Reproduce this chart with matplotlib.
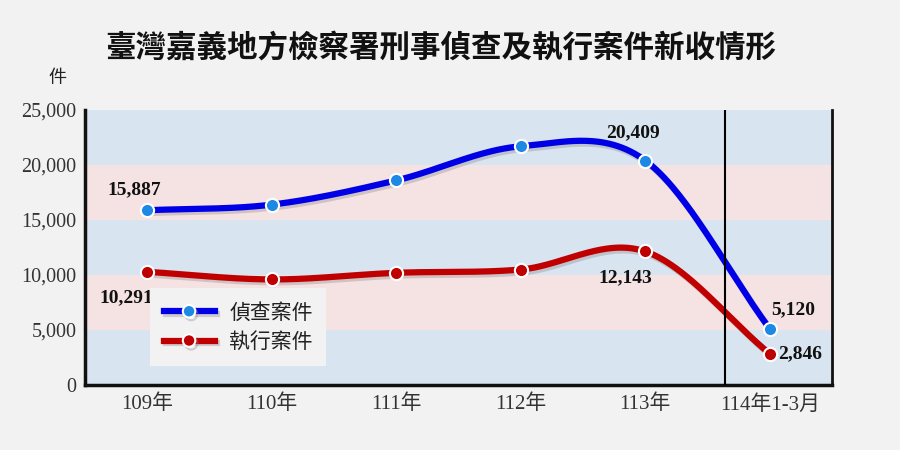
import numpy as np
import matplotlib
matplotlib.use("Agg")
import matplotlib.pyplot as plt
import matplotlib.patheffects as pe
from matplotlib.lines import Line2D

categories = ["109年", "110年", "111年", "112年", "113年", "114年1-3月"]
investigation = [15887, 16400, 18600, 21700, 20409, 5120]
execution = [10291, 9600, 10200, 10500, 12143, 2846]
series_names = ["偵查案件", "執行案件"]
labeled_inv = {0: "15,887", 4: "20,409", 5: "5,120"}
labeled_exe = {0: "10,291", 4: "12,143", 5: "2,846"}
yticks = [0, 5000, 10000, 15000, 20000, 25000]
title = "臺灣嘉義地方檢察署刑事偵查及執行案件新收情形"

CJK = ["Noto Sans CJK TC", "DejaVu Sans"]
SERIF_CJK = ["Liberation Serif", "Noto Sans CJK TC"]


def catmull_rom(xs, ys, n=60):
    xs = np.asarray(xs, float)
    ys = np.asarray(ys, float)
    px = np.concatenate([[2 * xs[0] - xs[1]], xs, [2 * xs[-1] - xs[-2]]])
    py = np.concatenate([[2 * ys[0] - ys[1]], ys, [2 * ys[-1] - ys[-2]]])
    ox, oy = [], []
    t = np.linspace(0, 1, n)
    for i in range(1, len(px) - 2):
        m0x = (px[i + 1] - px[i - 1]) / 2
        m1x = (px[i + 2] - px[i]) / 2
        m0y = (py[i + 1] - py[i - 1]) / 2
        m1y = (py[i + 2] - py[i]) / 2
        h00 = 2 * t**3 - 3 * t**2 + 1
        h10 = t**3 - 2 * t**2 + t
        h01 = -2 * t**3 + 3 * t**2
        h11 = t**3 - t**2
        ox.append(h00 * px[i] + h10 * m0x + h01 * px[i + 1] + h11 * m1x)
        oy.append(h00 * py[i] + h10 * m0y + h01 * py[i + 1] + h11 * m1y)
    return np.concatenate(ox), np.concatenate(oy)


fig = plt.figure(figsize=(9, 4.5), dpi=100, facecolor="#f2f2f2")
ax = fig.add_axes([0.0944, 0.1444, 0.83, 0.6111])
ax.set_facecolor("#f2f2f2")

band_colors = ["#d8e4f0", "#f5e2e3"]
for i in range(len(yticks) - 1):
    ax.axhspan(yticks[i], yticks[i + 1], color=band_colors[i % 2], lw=0, zorder=0)

x = np.arange(len(categories))
shadow = [pe.SimpleLineShadow(offset=(1.5, -2), shadow_color="#888888", alpha=0.35), pe.Normal()]

for vals, lc, mc in [(investigation, "#0000e6", "#1e88e5"), (execution, "#c00000", "#c00000")]:
    sx, sy = catmull_rom(x, vals)
    ax.plot(sx, sy, color=lc, lw=4.5, solid_capstyle="round", zorder=3, path_effects=shadow)
    ax.plot(x, vals, "o", ms=9.5, mfc=mc, mec="white", mew=1.5, zorder=4)

ax.axvline(4.64, color="black", lw=1.5, zorder=5)

ax.set_xlim(-0.5, 5.5)
ax.set_ylim(0, 25000)
ax.set_yticks(yticks)
ax.set_yticklabels([f"{v:,}" for v in yticks], family="Liberation Serif", fontsize=14.5, color="#333333")
ax.set_xticks(x)
ax.set_xticklabels(categories, family=SERIF_CJK, fontsize=15, color="#333333")
ax.tick_params(axis="both", length=0)
ax.tick_params(axis="x", pad=7)
ax.tick_params(axis="y", pad=6)

ax.spines["top"].set_visible(False)
ax.spines["left"].set_linewidth(2.5)
ax.spines["bottom"].set_linewidth(2.5)
ax.spines["right"].set_linewidth(2)
for s in ["left", "bottom", "right"]:
    ax.spines[s].set_color("#111111")

lab_font = dict(family="Liberation Serif", fontsize=14, fontweight="bold", color="#111111", zorder=6)
ax.annotate(labeled_inv[0], (0, investigation[0]), xytext=(-9.5, 15), textcoords="offset points", ha="center", va="center", **lab_font)
ax.annotate(labeled_inv[4], (4, investigation[4]), xytext=(-8.6, 20), textcoords="offset points", ha="center", va="center", **lab_font)
ax.annotate(labeled_inv[5], (5, investigation[5]), xytext=(17, 13.7), textcoords="offset points", ha="center", va="center", **lab_font)
ax.annotate(labeled_exe[0], (0, execution[0]), xytext=(-15, -19), textcoords="offset points", ha="center", va="center", **lab_font)
ax.annotate(labeled_exe[4], (4, execution[4]), xytext=(-14.4, -18.7), textcoords="offset points", ha="center", va="center", **lab_font)
ax.annotate(labeled_exe[5], (5, execution[5]), xytext=(22, 0), textcoords="offset points", ha="center", va="center", **lab_font)

handles = [
    Line2D([], [], color="#0000e6", lw=4.5, marker="o", ms=9, mfc="#1e88e5", mec="white", mew=1.5,
           path_effects=shadow),
    Line2D([], [], color="#c00000", lw=4.5, marker="o", ms=9, mfc="#c00000", mec="white", mew=1.5,
           path_effects=shadow),
]
leg = fig.legend(handles, series_names, loc="upper left", bbox_to_anchor=(150 / 900, 1 - 288 / 450),
                 frameon=True, fancybox=False, facecolor="#f2f2f2", edgecolor="none", framealpha=1,
                 prop={"family": CJK, "size": 15}, handlelength=2.45, handletextpad=0.7,
                 labelspacing=0.35, borderpad=0.65, borderaxespad=0)
leg.set_zorder(10)
for t in leg.get_texts():
    t.set_color("#222222")

fig.text(0.49, 1 - 48 / 450, title, ha="center", va="center", family=CJK, fontsize=22,
         fontweight="bold", color="#111111")
fig.text(57 / 900, 1 - 78 / 450, "件", ha="center", va="center", family=CJK, fontsize=13, color="#222222")

fig.savefig("out.png", dpi=100, facecolor=fig.get_facecolor())
